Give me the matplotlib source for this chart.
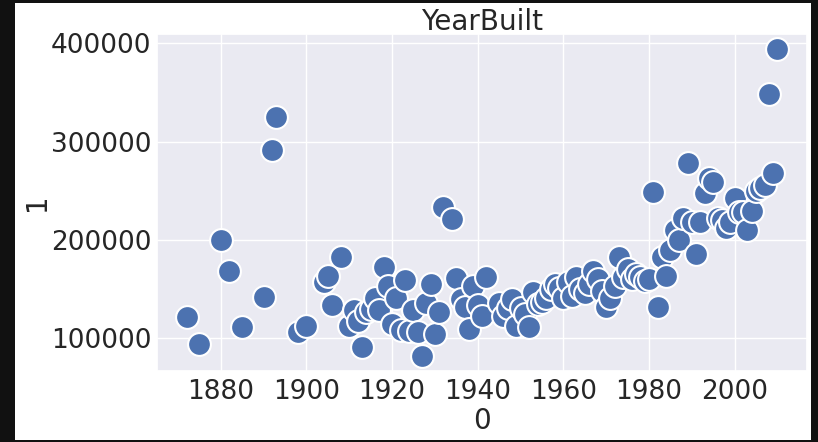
import numpy as np
import matplotlib
matplotlib.use("Agg")
import matplotlib.pyplot as plt
import seaborn as sns
import pandas as pd
from matplotlib.patches import Rectangle

# year built vs. price
years = [1872, 1875, 1880, 1882, 1885, 1890, 1892, 1893, 1898, 1900,
         1904, 1905, 1906, 1908, 1910, 1911, 1912, 1913, 1914, 1915,
         1916, 1917, 1918, 1919, 1920, 1921, 1922, 1923, 1924, 1925,
         1926, 1927, 1928, 1929, 1930, 1931, 1932, 1934, 1935, 1936,
         1937, 1938, 1939, 1940, 1941, 1942, 1945, 1946, 1947, 1948,
         1949, 1950, 1951, 1952, 1953, 1954, 1955, 1956, 1957, 1958,
         1959, 1960, 1961, 1962, 1963, 1964, 1965, 1966, 1967, 1968,
         1969, 1970, 1971, 1972, 1973, 1974, 1975, 1976, 1977, 1978,
         1979, 1980, 1981, 1982, 1983, 1984, 1985, 1986, 1987, 1988,
         1989, 1990, 1991, 1992, 1993, 1994, 1995, 1996, 1997, 1998,
         1999, 2000, 2001, 2002, 2003, 2004, 2005, 2006, 2007, 2008,
         2009, 2010]
prices = [121000, 94000, 200000, 168000, 111000, 142000, 291000, 325000, 106000, 112000,
          157000, 163000, 134000, 183000, 112000, 129000, 117000, 91000, 126000, 130000,
          141000, 129000, 172000, 153000, 114000, 141000, 108000, 159000, 107000, 129000,
          106000, 82000, 136000, 155000, 104000, 126000, 233000, 221000, 161000, 140000,
          132000, 109000, 153000, 134000, 122000, 162000, 136000, 122000, 131000, 140000,
          112000, 131000, 124000, 111000, 147000, 135000, 137000, 141000, 150000, 155000,
          151000, 141000, 157000, 143000, 162000, 150000, 146000, 155000, 168000, 160000,
          148000, 132000, 141000, 153000, 183000, 162000, 170000, 160000, 165000, 162000,
          158000, 160000, 249000, 132000, 182000, 163000, 190000, 210000, 200000, 222000,
          278000, 218000, 186000, 218000, 248000, 263000, 259000, 222000, 220000, 212000,
          218000, 243000, 228000, 228000, 210000, 229000, 250000, 253000, 256000, 348000,
          268000, 394000]

df = pd.DataFrame({0: years, 1: prices})

sns.set_theme(style="darkgrid")

fig = plt.figure(figsize=(8.18, 4.42), dpi=100, facecolor="#111111")
# white page inside the dark screenshot border
fig.patches.append(Rectangle((15 / 818, 2 / 442), 796 / 818, 437 / 442,
                             transform=fig.transFigure, facecolor="white",
                             edgecolor="none", zorder=-10))
ax = fig.add_axes([157 / 818, 1 - 371 / 442, 650 / 818, 337 / 442])

sns.scatterplot(data=df, x=0, y=1, ax=ax, s=270, color="#4c72b0",
                edgecolor="white", linewidth=1.5)

ax.set_title("YearBuilt", fontsize=20, pad=3)
ax.set_xlabel("0", fontsize=20, labelpad=1)
ax.set_ylabel("1", fontsize=20, labelpad=0)
ax.tick_params(axis="x", labelsize=19, length=0, pad=6)
ax.tick_params(axis="y", labelsize=19, length=0, pad=4)

fig.savefig("out.png", dpi=100, facecolor=fig.get_facecolor())
